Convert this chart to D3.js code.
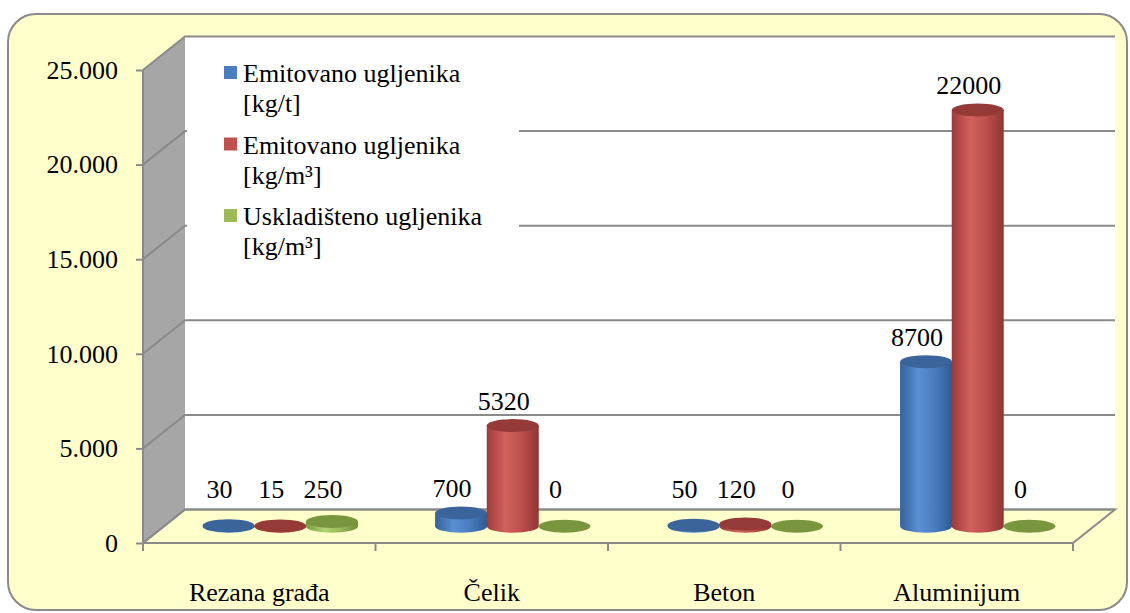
<!DOCTYPE html>
<html>
<head>
<meta charset="utf-8">
<script src="https://cdn.jsdelivr.net/npm/d3@7"></script>
<style>
  body { margin: 0; background: #fff; }
  svg text { font-family: "Liberation Serif", "DejaVu Serif", serif; fill: #000; }
</style>
</head>
<body>
<script>
// data
const categories = ['Rezana građa', 'Čelik', 'Beton', 'Aluminijum'];
const seriesNames = [
  ['Emitovano ugljenika', '[kg/t]'],
  ['Emitovano ugljenika', '[kg/m³]'],
  ['Uskladišteno ugljenika', '[kg/m³]']
];
const emitKgT = [30, 700, 50, 8700];
const emitKgM3 = [15, 5320, 120, 22000];
const storedKgM3 = [250, 0, 0, 0];
const yTicks = [0, 5000, 10000, 15000, 20000, 25000];

const series = [emitKgT, emitKgM3, storedKgM3];
const colors = [
  { side: ['#33629b', '#5a8fd2', '#4a7ec0', '#2f5a8f'], top: '#3b659a' },
  { side: ['#9c3b39', '#d2605d', '#c0504d', '#8e3634'], top: '#963a38' },
  { side: ['#7c9a3e', '#b2d272', '#9bbb59', '#6f8b37'], top: '#79963f' }
];
const FONT = '"Liberation Serif", "DejaVu Serif", serif';

const W = 1130, H = 613;
const svg = d3.select('body').append('svg')
  .attr('width', W).attr('height', H);

const defs = svg.append('defs');
colors.forEach((c, i) => {
  const g = defs.append('linearGradient').attr('id', 'cyl' + i)
    .attr('x1', 0).attr('x2', 1).attr('y1', 0).attr('y2', 0);
  g.append('stop').attr('offset', '0%').attr('stop-color', c.side[0]);
  g.append('stop').attr('offset', '35%').attr('stop-color', c.side[1]);
  g.append('stop').attr('offset', '65%').attr('stop-color', c.side[2]);
  g.append('stop').attr('offset', '100%').attr('stop-color', c.side[3]);
});

// outer frame
svg.append('rect')
  .attr('x', 8).attr('y', 14).attr('width', 1119).attr('height', 596)
  .attr('rx', 28).attr('ry', 28)
  .attr('fill', '#ffffcc').attr('stroke', '#8a8a8a').attr('stroke-width', 2);

// 3d geometry
const x0 = 143, x1 = 1073;           // front axis
const depthX = 42, depthY = -33.5;    // depth offset to the back wall
const y = d3.scaleLinear().domain([0, 25000]).range([543, 70]);
const x = d3.scaleBand().domain(categories).range([x0, x1]);
const s = d3.scaleBand().domain([0, 1, 2]).range([-77.5, 77.5]);

const gray = '#8a8a8a';

// back wall
svg.append('rect')
  .attr('x', x0 + depthX).attr('y', y(25000) + depthY)
  .attr('width', x1 - x0).attr('height', y(0) - y(25000))
  .attr('fill', '#fff');

// side wall
svg.append('path')
  .attr('d', `M${x0},${y(0)} L${x0},${y(25000)} L${x0 + depthX},${y(25000) + depthY} L${x0 + depthX},${y(0) + depthY} Z`)
  .attr('fill', '#a6a6a6');

// floor
svg.append('path')
  .attr('d', `M${x0},${y(0)} L${x0 + depthX},${y(0) + depthY} L${x1 + depthX},${y(0) + depthY} L${x1},${y(0)} Z`)
  .attr('fill', '#ffffcc').attr('stroke', gray).attr('stroke-width', 2);

// gridlines
const grid = svg.append('g').attr('stroke', gray).attr('stroke-width', 2).attr('fill', 'none');
yTicks.forEach(t => {
  grid.append('path')
    .attr('d', `M${x0},${y(t)} L${x0 + depthX},${y(t) + depthY} L${x1 + depthX},${y(t) + depthY}`);
});

// y axis
const yAxis = svg.append('g')
  .attr('transform', `translate(${x0},0)`)
  .call(d3.axisLeft(y).tickValues(yTicks).tickSize(7).tickPadding(18)
    .tickFormat(d => d3.format(',')(d).replace(/,/g, '.')));
yAxis.attr('font-family', FONT);
yAxis.select('.domain').attr('stroke', gray).attr('stroke-width', 2).attr('d', `M0,${y(0)}V${y(25000)}`);
yAxis.selectAll('.tick line').attr('stroke', gray).attr('stroke-width', 2);
yAxis.selectAll('.tick text').attr('font-size', 26).attr('fill', '#000');

// x axis
const xAxis = svg.append('g')
  .attr('transform', `translate(0,${y(0)})`)
  .call(d3.axisBottom(x).tickSize(0).tickPadding(40));
xAxis.attr('font-family', FONT);
xAxis.select('.domain').remove();
xAxis.selectAll('.tick text').attr('font-size', 26).attr('fill', '#000');
const catTicks = categories.map(c => x(c)).concat([x1]);
svg.append('g').selectAll('line').data(catTicks).join('line')
  .attr('x1', d => d).attr('x2', d => d)
  .attr('y1', y(0)).attr('y2', y(0) + 8)
  .attr('stroke', gray).attr('stroke-width', 2);

// legend
const legend = svg.append('g').attr('font-family', FONT);
legend.append('rect')
  .attr('x', x0 + depthX + 2).attr('y', 40).attr('width', 332).attr('height', 232)
  .attr('fill', '#fff');
seriesNames.forEach((nm, i) => {
  const by = 82 + i * 71.5;
  legend.append('rect')
    .attr('x', 224).attr('y', by - 16).attr('width', 13).attr('height', 13)
    .attr('fill', colors[i].side[2]);
  legend.append('text').attr('x', 243).attr('y', by).attr('font-size', 26).text(nm[0]);
  legend.append('text').attr('x', 243).attr('y', by + 30).attr('font-size', 26).text(nm[1]);
});

// cylinders
const rx = 26, ry = 6.5;
const bars = svg.append('g');
const labels = svg.append('g').attr('font-family', FONT);
categories.forEach((c, ci) => {
  series.forEach((vals, si) => {
    const v = vals[ci];
    const cx = x(c) + x.bandwidth() / 2 + depthX / 2 + s(si) + s.bandwidth() / 2;
    const base = y(0) + depthY / 2;
    const top = y(v) + depthY / 2;
    if (v > 0) {
      bars.append('path')
        .attr('d', `M${cx - rx},${top} L${cx - rx},${base} A${rx},${ry} 0 0 0 ${cx + rx},${base} L${cx + rx},${top} Z`)
        .attr('fill', `url(#cyl${si})`);
    }
    bars.append('ellipse')
      .attr('cx', cx).attr('cy', top).attr('rx', rx).attr('ry', ry)
      .attr('fill', colors[si].top);
    labels.append('text')
      .attr('x', cx - 9).attr('y', Math.min(top - 16, 498))
      .attr('text-anchor', 'middle').attr('font-size', 26)
      .text(v);
  });
});
</script>
</body>
</html>
